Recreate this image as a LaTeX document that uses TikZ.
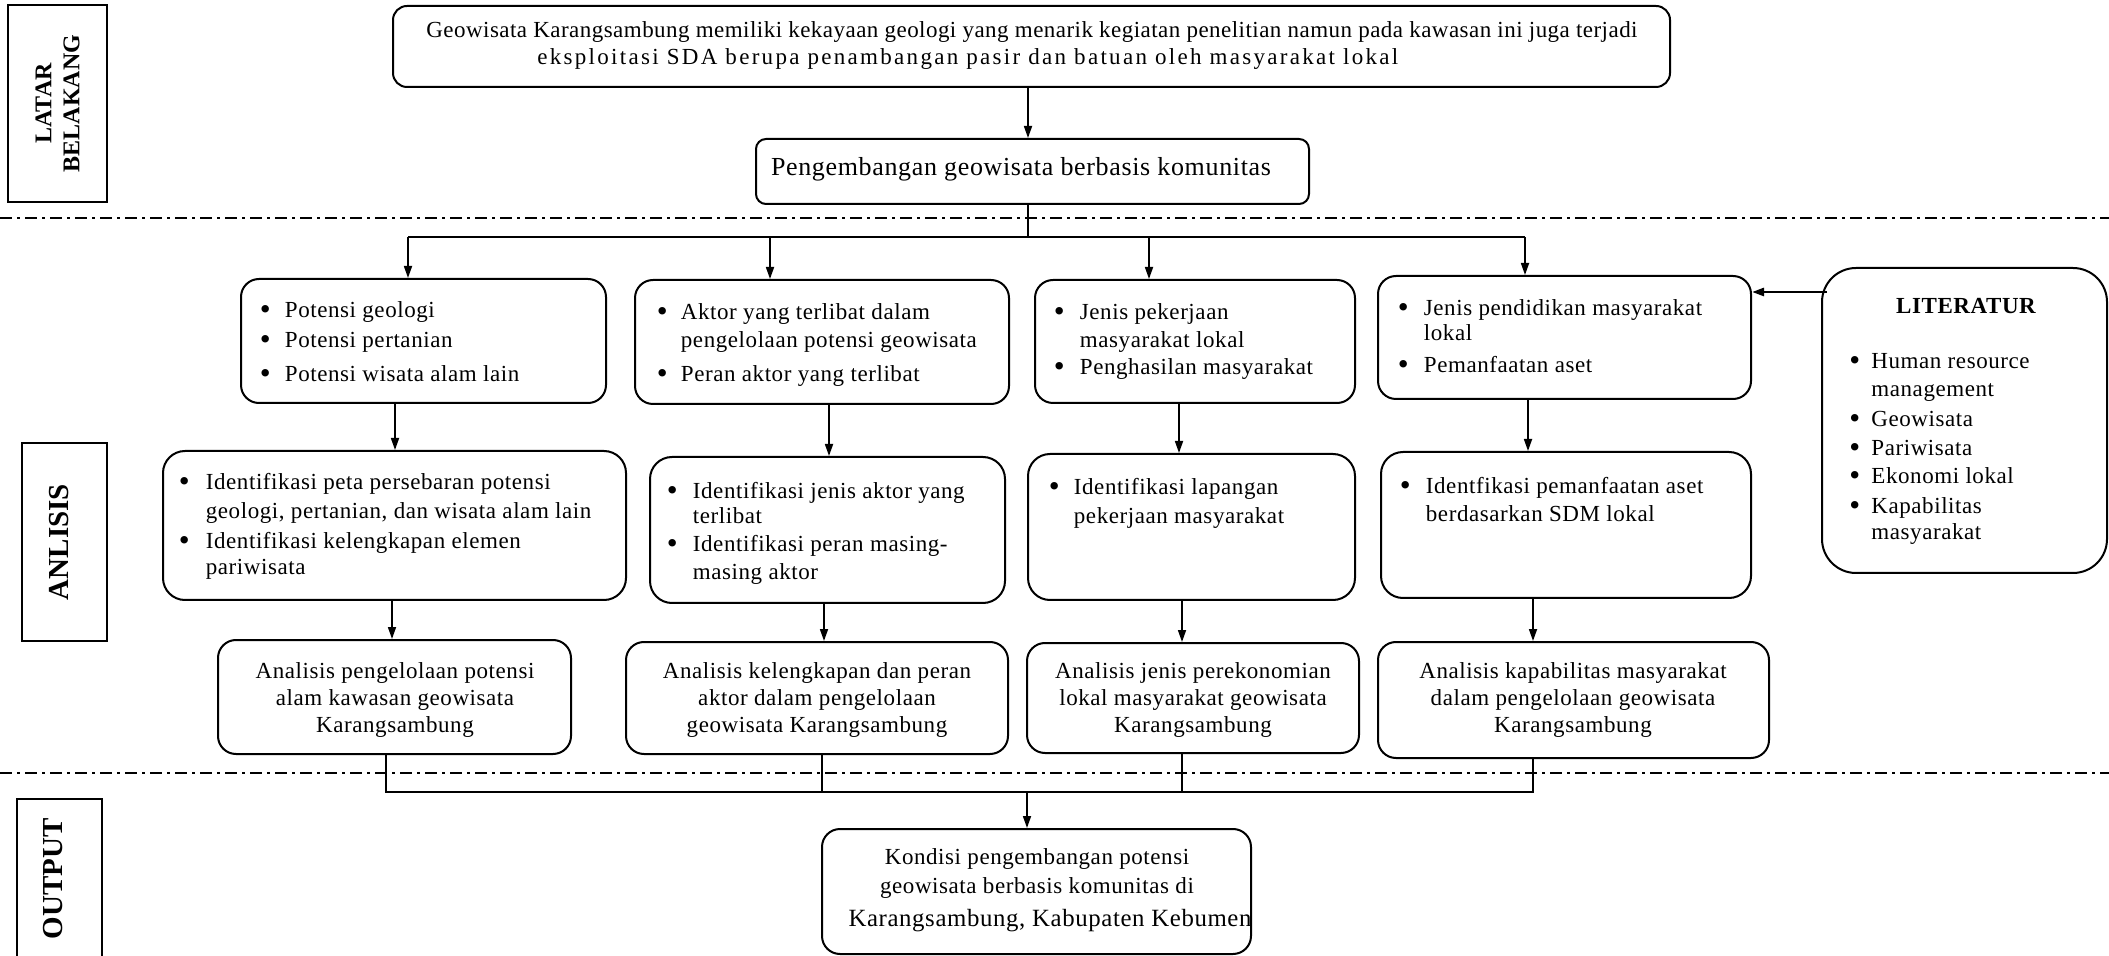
\documentclass[tikz,border=0pt]{standalone}
\usepackage{fontspec}
\usepackage{graphicx}
\setmainfont{Liberation Serif}
\newfontfamily\bodyf[LetterSpace=2.5]{Liberation Serif}
\newfontfamily\secf[LetterSpace=2.5]{Liberation Serif}
\usetikzlibrary{arrows.meta,fit}
\newcommand\bul[1]{\makebox[#1pt][l]{\raisebox{-1.1pt}{\scalebox{1.35}{\textbullet}}}}
\newcommand\ind[1]{\hspace*{#1pt}}
\begin{document}
\begin{tikzpicture}[x=0.5pt,y=-0.5pt,
  box/.style={draw, line width=1pt, rounded corners=9pt, inner sep=0pt},
  lab/.style={draw, line width=1.1pt, inner sep=0pt},
  txt/.style={inner sep=0pt, align=left, anchor=north west, font=\bodyf\fontsize{11.5}{14}\selectfont},
  ctxt/.style={txt, align=center, anchor=north},
  slab/.style={inner sep=0pt, rotate=90, align=center},
  arr/.style={-{Triangle[length=6pt,width=4pt]}, line width=0.85pt},
  ln/.style={line width=0.85pt},
  sep/.style={line width=1.4pt, dash pattern=on 6pt off 2.5pt on 1.5pt off 2.5pt}]
\useasboundingbox (0,0) rectangle (2109,956);

% separators
\draw[sep] (0,218) -- (2109,218);
\draw[sep] (0,773) -- (2109,773);

% section labels
\node[lab, fit={(8,5) (107,202)}] (sl1) {};
\node[slab, font=\bfseries\fontsize{12}{14}\selectfont] (sl1t) at (sl1.center) {LATAR\\BELAKANG};
\node[lab, fit={(22,443) (107,641)}] (sl2) {};
\node[slab, font=\bfseries\fontsize{14.5}{16}\selectfont] (sl2t) at (59,542) {ANLISIS};
\node[lab, fit={(17,799) (102,962)}] (sl3) {};
\node[slab, font=\bfseries\fontsize{14.5}{16}\selectfont] (sl3t) at (53,879) {OUTPUT};

% boxes
\node[box, rounded corners=7pt, fit={(393,6) (1670,87)}] (top) {};
\node[box, rounded corners=5pt, fit={(756,139) (1309,204)}] (sec) {};
\node[box, fit={(241,279) (606,403)}] (b1) {};
\node[box, fit={(635,280) (1009,404)}] (b2) {};
\node[box, fit={(1035,280) (1355,403)}] (b3) {};
\node[box, fit={(1378,276) (1751,399)}] (b4) {};
\node[box, rounded corners=17pt, fit={(1822,268) (2107,573)}] (lit) {};
\node[box, rounded corners=11pt, fit={(163,451) (626,600)}] (c1) {};
\node[box, rounded corners=11pt, fit={(650,457) (1005,603)}] (c2) {};
\node[box, rounded corners=11pt, fit={(1028,454) (1355,600)}] (c3) {};
\node[box, rounded corners=11pt, fit={(1381,452) (1751,598)}] (c4) {};
\node[box, fit={(218,640) (571,754)}] (d1) {};
\node[box, fit={(626,642) (1008,754)}] (d2) {};
\node[box, fit={(1027,643) (1359,753)}] (d3) {};
\node[box, fit={(1378,642) (1769,758)}] (d4) {};
\node[box, fit={(822,829) (1251,954)}] (out) {};

% texts
\node[txt] (ttop) at (426,17.4) {\strut{\addfontfeature{LetterSpace=2}Geowisata Karangsambung memiliki kekayaan geologi yang menarik kegiatan penelitian namun pada kawasan ini juga terjadi}\\[-0.5pt]\ind{55.5}{\addfontfeature{LetterSpace=10}eksploitasi SDA berupa penambangan pasir dan batuan oleh masyarakat lokal}};
\node[ctxt, font=\secf\fontsize{13}{16}\selectfont] (tsec) at (1021,152.6) {\strut Pengembangan geowisata berbasis komunitas};

\node[txt] (tb1) at (259.5,297.4) {\strut\bul{12.5}Potensi geologi\\[1pt]\bul{12.5}Potensi pertanian\\[3pt]\bul{12.5}Potensi wisata alam lain};
\node[txt] (tb2) at (656.5,299.4) {\strut\bul{12}Aktor yang terlibat dalam\\\ind{12}pengelolaan potensi geowisata\\[3pt]\bul{12}Peran aktor yang terlibat};
\node[txt] (tb3) at (1053.5,299.4) {\strut\bul{13}Jenis pekerjaan\\\ind{13}masyarakat lokal\\[-0.5pt]\bul{13}Penghasilan masyarakat};
\node[txt] (tb4) at (1397.5,295.4) {\strut\bul{13}Jenis pendidikan masyarakat\\[-1.5pt]\ind{13}lokal\\[2pt]\bul{13}Pemanfaatan aset};

\node[ctxt, font=\bodyf\bfseries\fontsize{11.5}{14}\selectfont] (tlit) at (1966,293.4) {\strut LITERATUR};
\node[txt] (tlitl) at (1849,348.4) {\strut\bul{11}Human resource\\\ind{11}management\\[1pt]\bul{11}Geowisata\\[0.5pt]\bul{11}Pariwisata\\\bul{11}Ekonomi lokal\\[1pt]\bul{11}Kapabilitas\\[-1pt]\ind{11}masyarakat};

\node[txt] (tc1) at (178.5,469.4) {\strut\bul{13.5}Identifikasi peta persebaran potensi\\[0.5pt]\ind{13.5}geologi, pertanian, dan wisata alam lain\\[1pt]\bul{13.5}Identifikasi kelengkapan elemen\\[-1pt]\ind{13.5}pariwisata};
\node[txt] (tc2) at (666.5,478.4) {\strut\bul{13}Identifikasi jenis aktor yang\\[-1.5pt]\ind{13}terlibat\\\bul{13}Identifikasi peran masing-\\\ind{13}masing aktor};
\node[txt] (tc3) at (1048.5,474.4) {\strut\bul{12.5}Identifikasi lapangan\\[0.5pt]\ind{12.5}pekerjaan masyarakat};
\node[txt] (tc4) at (1399.5,473.4) {\strut\bul{13}Identfikasi pemanfaatan aset\\\ind{13}berdasarkan SDM lokal};

\node[ctxt] (td1) at (395,658.4) {\strut Analisis pengelolaan potensi\\[-0.5pt]alam kawasan geowisata\\[-0.5pt]Karangsambung};
\node[ctxt] (td2) at (817,658.4) {\strut Analisis kelengkapan dan peran\\[-0.5pt]aktor dalam pengelolaan\\[-0.5pt]geowisata Karangsambung};
\node[ctxt] (td3) at (1193,658.4) {\strut Analisis jenis perekonomian\\[-0.5pt]lokal masyarakat geowisata\\[-0.5pt]Karangsambung};
\node[ctxt] (td4) at (1573,658.4) {\strut Analisis kapabilitas masyarakat\\[-0.5pt]dalam pengelolaan geowisata\\[-0.5pt]Karangsambung};
\node[ctxt] (tout) at (1037,844.4) {\strut Kondisi pengembangan potensi\\[0.5pt]geowisata berbasis komunitas di\\[2.5pt]\hspace*{13pt}{\fontsize{12.4}{14}\selectfont Karangsambung, Kabupaten Kebumen}};

% connectors
\coordinate (xm) at (1028,0);
\draw[arr] (top.south -| xm) -- (sec.north -| xm);
\coordinate (t1) at (408,237);
\coordinate (t2) at (770,237);
\coordinate (t3) at (1149,237);
\coordinate (t4) at (1525,237);
\draw[ln] (sec.south -| xm) -- (xm |- t1);
\draw[ln] (t1) -- (t4);
\draw[arr] (t1) -- (b1.north -| t1);
\draw[arr] (t2) -- (b2.north -| t2);
\draw[arr] (t3) -- (b3.north -| t3);
\draw[arr] (t4) -- (b4.north -| t4);

\coordinate (lita) at (1827,292);
\draw[arr, line width=1.3pt] (lita) -- (b4.east |- lita);

\coordinate (u1) at (395,0);
\coordinate (u2) at (829,0);
\coordinate (u3) at (1179,0);
\coordinate (u4) at (1528,0);
\draw[arr] (b1.south -| u1) -- (c1.north -| u1);
\draw[arr] (b2.south -| u2) -- (c2.north -| u2);
\draw[arr] (b3.south -| u3) -- (c3.north -| u3);
\draw[arr] (b4.south -| u4) -- (c4.north -| u4);

\coordinate (v1) at (392,0);
\coordinate (v2) at (824,0);
\coordinate (v3) at (1182,0);
\coordinate (v4) at (1533,0);
\draw[arr] (c1.south -| v1) -- (d1.north -| v1);
\draw[arr] (c2.south -| v2) -- (d2.north -| v2);
\draw[arr] (c3.south -| v3) -- (d3.north -| v3);
\draw[arr] (c4.south -| v4) -- (d4.north -| v4);

\coordinate (w1) at (386,792);
\coordinate (w2) at (822,792);
\coordinate (w3) at (1182,792);
\coordinate (w4) at (1533,792);
\coordinate (wo) at (1027,792);
\draw[ln] (d1.south -| w1) -- (w1) -- (w4) -- (d4.south -| w4);
\draw[ln] (d2.south -| w2) -- (w2);
\draw[ln] (d3.south -| w3) -- (w3);
\draw[arr] (wo) -- (out.north -| wo);
\end{tikzpicture}
\end{document}
